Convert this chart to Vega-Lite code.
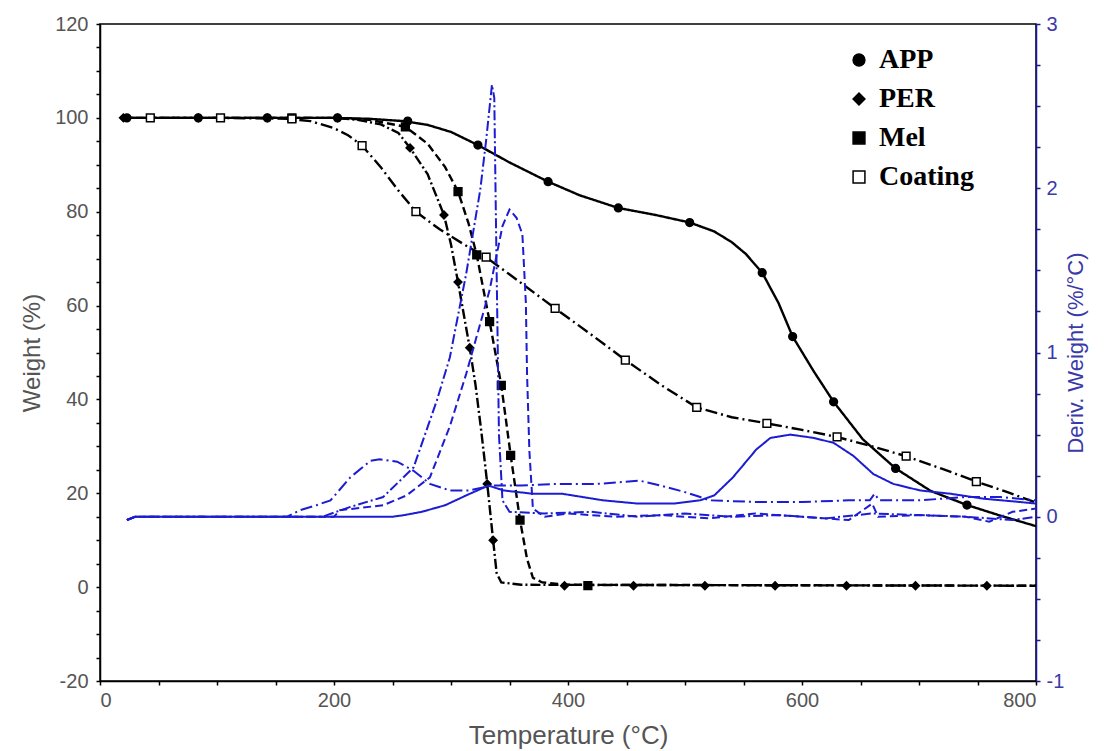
{
  "$schema": "https://vega.github.io/schema/vega-lite/v6.json",
  "autosize": {"type": "none"},
  "padding": {"left": 100, "top": 24, "right": 76, "bottom": 70},
  "width": 936,
  "height": 657,
  "background": "white",
  "config": {
    "view": {"stroke": "black", "strokeWidth": 1.5},
    "axis": {
      "labelFont": "Liberation Sans",
      "labelFontSize": 20,
      "labelColor": "#555555",
      "titleFont": "Liberation Sans",
      "titleFontSize": 24,
      "titleFontWeight": "normal",
      "titleColor": "#555555",
      "grid": false,
      "domainColor": "black",
      "domainWidth": 1.5,
      "tickColor": "black",
      "tickWidth": 1.5,
      "tickSize": 4
    },
    "legend": {
      "labelFont": "Liberation Serif",
      "labelFontSize": 28,
      "labelFontWeight": "bold",
      "labelColor": "black"
    }
  },
  "datasets": {
    "tga": [
      {"series": "APP", "T": 20, "w": 100}, {"series": "APP", "T": 100, "w": 100}, {"series": "APP", "T": 200, "w": 100},
      {"series": "APP", "T": 230, "w": 99.8}, {"series": "APP", "T": 260, "w": 99.3}, {"series": "APP", "T": 280, "w": 98.5},
      {"series": "APP", "T": 300, "w": 97}, {"series": "APP", "T": 323, "w": 94.2}, {"series": "APP", "T": 350, "w": 90.5},
      {"series": "APP", "T": 383, "w": 86.4}, {"series": "APP", "T": 410, "w": 83.5}, {"series": "APP", "T": 443, "w": 80.8},
      {"series": "APP", "T": 475, "w": 79.3}, {"series": "APP", "T": 504, "w": 77.7}, {"series": "APP", "T": 525, "w": 75.8},
      {"series": "APP", "T": 540, "w": 73.5}, {"series": "APP", "T": 552, "w": 71}, {"series": "APP", "T": 566, "w": 67},
      {"series": "APP", "T": 580, "w": 60.5}, {"series": "APP", "T": 592, "w": 53.4}, {"series": "APP", "T": 610, "w": 46},
      {"series": "APP", "T": 627, "w": 39.5}, {"series": "APP", "T": 652, "w": 31.5}, {"series": "APP", "T": 680, "w": 25.3},
      {"series": "APP", "T": 710, "w": 20.5}, {"series": "APP", "T": 741, "w": 17.5}, {"series": "APP", "T": 770, "w": 15.2},
      {"series": "APP", "T": 800, "w": 13},

      {"series": "PER", "T": 20, "w": 100}, {"series": "PER", "T": 200, "w": 100}, {"series": "PER", "T": 220, "w": 99.6},
      {"series": "PER", "T": 240, "w": 98.6}, {"series": "PER", "T": 255, "w": 96.8}, {"series": "PER", "T": 265, "w": 93.6},
      {"series": "PER", "T": 280, "w": 88}, {"series": "PER", "T": 294, "w": 79.3}, {"series": "PER", "T": 300, "w": 73},
      {"series": "PER", "T": 306, "w": 65}, {"series": "PER", "T": 311, "w": 58}, {"series": "PER", "T": 316, "w": 51},
      {"series": "PER", "T": 321, "w": 43}, {"series": "PER", "T": 326, "w": 33}, {"series": "PER", "T": 331, "w": 22},
      {"series": "PER", "T": 336, "w": 10}, {"series": "PER", "T": 339, "w": 3}, {"series": "PER", "T": 343, "w": 1},
      {"series": "PER", "T": 360, "w": 0.5}, {"series": "PER", "T": 800, "w": 0.3},

      {"series": "Mel", "T": 20, "w": 100}, {"series": "Mel", "T": 200, "w": 100}, {"series": "Mel", "T": 230, "w": 99.6},
      {"series": "Mel", "T": 261, "w": 98.1}, {"series": "Mel", "T": 280, "w": 94.5}, {"series": "Mel", "T": 295, "w": 89.5},
      {"series": "Mel", "T": 306, "w": 84.3}, {"series": "Mel", "T": 315, "w": 77.5}, {"series": "Mel", "T": 322, "w": 70.8},
      {"series": "Mel", "T": 333, "w": 56.6}, {"series": "Mel", "T": 343, "w": 43}, {"series": "Mel", "T": 351, "w": 28.1},
      {"series": "Mel", "T": 359, "w": 14.3}, {"series": "Mel", "T": 365, "w": 6}, {"series": "Mel", "T": 370, "w": 2},
      {"series": "Mel", "T": 378, "w": 1}, {"series": "Mel", "T": 400, "w": 0.5}, {"series": "Mel", "T": 800, "w": 0.3},

      {"series": "Coating", "T": 20, "w": 100}, {"series": "Coating", "T": 100, "w": 100}, {"series": "Coating", "T": 160, "w": 99.8},
      {"series": "Coating", "T": 180, "w": 99.3}, {"series": "Coating", "T": 200, "w": 97.8}, {"series": "Coating", "T": 212, "w": 96.3},
      {"series": "Coating", "T": 224, "w": 94.1}, {"series": "Coating", "T": 240, "w": 89.5}, {"series": "Coating", "T": 255, "w": 84.5},
      {"series": "Coating", "T": 270, "w": 80}, {"series": "Coating", "T": 290, "w": 76.3}, {"series": "Coating", "T": 310, "w": 73.2},
      {"series": "Coating", "T": 330, "w": 70.3}, {"series": "Coating", "T": 360, "w": 64.8}, {"series": "Coating", "T": 389, "w": 59.4},
      {"series": "Coating", "T": 420, "w": 53.8}, {"series": "Coating", "T": 449, "w": 48.4}, {"series": "Coating", "T": 480, "w": 43},
      {"series": "Coating", "T": 510, "w": 38.3}, {"series": "Coating", "T": 540, "w": 36.2}, {"series": "Coating", "T": 570, "w": 34.9},
      {"series": "Coating", "T": 600, "w": 33.5}, {"series": "Coating", "T": 630, "w": 32}, {"series": "Coating", "T": 660, "w": 30},
      {"series": "Coating", "T": 689, "w": 27.9}, {"series": "Coating", "T": 720, "w": 25.2}, {"series": "Coating", "T": 749, "w": 22.5},
      {"series": "Coating", "T": 775, "w": 20.3}, {"series": "Coating", "T": 800, "w": 18}
    ],
    "tgaMarks": [
      {"series": "APP", "T": 23, "w": 100}, {"series": "APP", "T": 84, "w": 100}, {"series": "APP", "T": 143, "w": 100},
      {"series": "APP", "T": 203, "w": 100}, {"series": "APP", "T": 263, "w": 99.3}, {"series": "APP", "T": 323, "w": 94.2},
      {"series": "APP", "T": 383, "w": 86.4}, {"series": "APP", "T": 443, "w": 80.8}, {"series": "APP", "T": 504, "w": 77.7},
      {"series": "APP", "T": 566, "w": 67}, {"series": "APP", "T": 592, "w": 53.4}, {"series": "APP", "T": 627, "w": 39.5},
      {"series": "APP", "T": 680, "w": 25.3}, {"series": "APP", "T": 741, "w": 17.5},

      {"series": "PER", "T": 20, "w": 100}, {"series": "PER", "T": 84, "w": 100}, {"series": "PER", "T": 143, "w": 100},
      {"series": "PER", "T": 203, "w": 100}, {"series": "PER", "T": 265, "w": 93.6}, {"series": "PER", "T": 294, "w": 79.3},
      {"series": "PER", "T": 306, "w": 65}, {"series": "PER", "T": 316, "w": 51}, {"series": "PER", "T": 331, "w": 22},
      {"series": "PER", "T": 336, "w": 10}, {"series": "PER", "T": 397, "w": 0.3}, {"series": "PER", "T": 456, "w": 0.3},
      {"series": "PER", "T": 517, "w": 0.3}, {"series": "PER", "T": 577, "w": 0.3}, {"series": "PER", "T": 638, "w": 0.3},
      {"series": "PER", "T": 697, "w": 0.3}, {"series": "PER", "T": 758, "w": 0.3},

      {"series": "Mel", "T": 164, "w": 100}, {"series": "Mel", "T": 261, "w": 98.1}, {"series": "Mel", "T": 306, "w": 84.3},
      {"series": "Mel", "T": 322, "w": 70.8}, {"series": "Mel", "T": 333, "w": 56.6}, {"series": "Mel", "T": 343, "w": 43},
      {"series": "Mel", "T": 351, "w": 28.1}, {"series": "Mel", "T": 359, "w": 14.3}, {"series": "Mel", "T": 417, "w": 0.3},

      {"series": "Coating", "T": 43, "w": 100}, {"series": "Coating", "T": 103, "w": 100}, {"series": "Coating", "T": 164, "w": 99.8},
      {"series": "Coating", "T": 224, "w": 94.1}, {"series": "Coating", "T": 270, "w": 80}, {"series": "Coating", "T": 330, "w": 70.3},
      {"series": "Coating", "T": 389, "w": 59.4}, {"series": "Coating", "T": 449, "w": 48.4}, {"series": "Coating", "T": 510, "w": 38.3},
      {"series": "Coating", "T": 570, "w": 34.9}, {"series": "Coating", "T": 630, "w": 32}, {"series": "Coating", "T": 689, "w": 27.9},
      {"series": "Coating", "T": 749, "w": 22.5}
    ],
    "dtg": [
      {"series": "APP", "T": 23, "d": -0.02}, {"series": "APP", "T": 30, "d": 0}, {"series": "APP", "T": 250, "d": 0},
      {"series": "APP", "T": 260, "d": 0.01}, {"series": "APP", "T": 275, "d": 0.03}, {"series": "APP", "T": 295, "d": 0.07},
      {"series": "APP", "T": 313, "d": 0.13}, {"series": "APP", "T": 332, "d": 0.19}, {"series": "APP", "T": 345, "d": 0.16},
      {"series": "APP", "T": 370, "d": 0.14}, {"series": "APP", "T": 395, "d": 0.14}, {"series": "APP", "T": 430, "d": 0.1},
      {"series": "APP", "T": 460, "d": 0.08}, {"series": "APP", "T": 490, "d": 0.08}, {"series": "APP", "T": 513, "d": 0.1},
      {"series": "APP", "T": 525, "d": 0.13}, {"series": "APP", "T": 541, "d": 0.24}, {"series": "APP", "T": 561, "d": 0.41},
      {"series": "APP", "T": 573, "d": 0.48}, {"series": "APP", "T": 590, "d": 0.5}, {"series": "APP", "T": 610, "d": 0.48},
      {"series": "APP", "T": 627, "d": 0.45}, {"series": "APP", "T": 644, "d": 0.37}, {"series": "APP", "T": 661, "d": 0.26},
      {"series": "APP", "T": 678, "d": 0.2}, {"series": "APP", "T": 701, "d": 0.16}, {"series": "APP", "T": 727, "d": 0.14},
      {"series": "APP", "T": 755, "d": 0.11}, {"series": "APP", "T": 786, "d": 0.09}, {"series": "APP", "T": 800, "d": 0.08},

      {"series": "PER", "T": 23, "d": -0.02}, {"series": "PER", "T": 30, "d": 0}, {"series": "PER", "T": 190, "d": 0},
      {"series": "PER", "T": 214, "d": 0.06}, {"series": "PER", "T": 242, "d": 0.12}, {"series": "PER", "T": 268, "d": 0.3},
      {"series": "PER", "T": 288, "d": 0.71}, {"series": "PER", "T": 299, "d": 0.97}, {"series": "PER", "T": 313, "d": 1.48},
      {"series": "PER", "T": 325, "d": 1.99}, {"series": "PER", "T": 330, "d": 2.29}, {"series": "PER", "T": 335, "d": 2.63},
      {"series": "PER", "T": 337, "d": 2.55}, {"series": "PER", "T": 339, "d": 1.5}, {"series": "PER", "T": 341, "d": 0.5},
      {"series": "PER", "T": 344, "d": 0.1}, {"series": "PER", "T": 350, "d": 0.03}, {"series": "PER", "T": 380, "d": 0.02},
      {"series": "PER", "T": 420, "d": 0.03}, {"series": "PER", "T": 460, "d": 0.0}, {"series": "PER", "T": 500, "d": 0.02},
      {"series": "PER", "T": 540, "d": 0.0}, {"series": "PER", "T": 580, "d": 0.01}, {"series": "PER", "T": 620, "d": -0.01},
      {"series": "PER", "T": 660, "d": 0.02}, {"series": "PER", "T": 700, "d": 0.01}, {"series": "PER", "T": 740, "d": 0.0},
      {"series": "PER", "T": 780, "d": -0.02}, {"series": "PER", "T": 800, "d": 0.0},

      {"series": "Mel", "T": 23, "d": -0.02}, {"series": "Mel", "T": 30, "d": 0}, {"series": "Mel", "T": 200, "d": 0},
      {"series": "Mel", "T": 205, "d": 0.04}, {"series": "Mel", "T": 242, "d": 0.07}, {"series": "Mel", "T": 262, "d": 0.13},
      {"series": "Mel", "T": 282, "d": 0.24}, {"series": "Mel", "T": 299, "d": 0.55}, {"series": "Mel", "T": 313, "d": 0.87},
      {"series": "Mel", "T": 333, "d": 1.38}, {"series": "Mel", "T": 344, "d": 1.77}, {"series": "Mel", "T": 350, "d": 1.87},
      {"series": "Mel", "T": 356, "d": 1.82}, {"series": "Mel", "T": 361, "d": 1.72}, {"series": "Mel", "T": 364, "d": 1.3},
      {"series": "Mel", "T": 365, "d": 0.87}, {"series": "Mel", "T": 367, "d": 0.4}, {"series": "Mel", "T": 370, "d": 0.05},
      {"series": "Mel", "T": 380, "d": 0.0}, {"series": "Mel", "T": 400, "d": 0.02}, {"series": "Mel", "T": 440, "d": 0.0},
      {"series": "Mel", "T": 480, "d": 0.01}, {"series": "Mel", "T": 520, "d": -0.01}, {"series": "Mel", "T": 560, "d": 0.02},
      {"series": "Mel", "T": 600, "d": 0.0}, {"series": "Mel", "T": 640, "d": -0.02}, {"series": "Mel", "T": 660, "d": 0.08},
      {"series": "Mel", "T": 665, "d": 0.0}, {"series": "Mel", "T": 700, "d": 0.01}, {"series": "Mel", "T": 740, "d": 0.0},
      {"series": "Mel", "T": 760, "d": -0.03}, {"series": "Mel", "T": 780, "d": 0.03}, {"series": "Mel", "T": 800, "d": 0.05},

      {"series": "Coating", "T": 23, "d": -0.02}, {"series": "Coating", "T": 30, "d": 0}, {"series": "Coating", "T": 160, "d": 0},
      {"series": "Coating", "T": 171, "d": 0.04}, {"series": "Coating", "T": 185, "d": 0.07}, {"series": "Coating", "T": 197, "d": 0.1},
      {"series": "Coating", "T": 214, "d": 0.24}, {"series": "Coating", "T": 231, "d": 0.34}, {"series": "Coating", "T": 239, "d": 0.35},
      {"series": "Coating", "T": 254, "d": 0.335}, {"series": "Coating", "T": 268, "d": 0.28}, {"series": "Coating", "T": 282, "d": 0.2},
      {"series": "Coating", "T": 299, "d": 0.16}, {"series": "Coating", "T": 315, "d": 0.16}, {"series": "Coating", "T": 335, "d": 0.19},
      {"series": "Coating", "T": 360, "d": 0.19}, {"series": "Coating", "T": 390, "d": 0.2}, {"series": "Coating", "T": 425, "d": 0.2},
      {"series": "Coating", "T": 461, "d": 0.22}, {"series": "Coating", "T": 479, "d": 0.19}, {"series": "Coating", "T": 500, "d": 0.15},
      {"series": "Coating", "T": 513, "d": 0.12}, {"series": "Coating", "T": 521, "d": 0.1}, {"series": "Coating", "T": 560, "d": 0.09},
      {"series": "Coating", "T": 600, "d": 0.09}, {"series": "Coating", "T": 640, "d": 0.1}, {"series": "Coating", "T": 658, "d": 0.1},
      {"series": "Coating", "T": 662, "d": 0.14}, {"series": "Coating", "T": 666, "d": 0.1}, {"series": "Coating", "T": 700, "d": 0.1},
      {"series": "Coating", "T": 740, "d": 0.12}, {"series": "Coating", "T": 770, "d": 0.12}, {"series": "Coating", "T": 800, "d": 0.1}
    ]
  },
  "encoding": {
    "x": {
      "field": "T",
      "type": "quantitative",
      "scale": {"domain": [0, 800], "nice": false, "zero": false},
      "axis": {
        "title": "Temperature (°C)",
        "titleFontSize": 26,
        "values": [0, 50, 100, 150, 200, 250, 300, 350, 400, 450, 500, 550, 600, 650, 700, 750, 800],
        "labelExpr": "datum.value % 200 === 0 ? '' + datum.value : ''",
        "labelPadding": 5,
        "titlePadding": 12
      }
    }
  },
  "layer": [
    {
      "encoding": {
        "y": {
          "field": "w",
          "type": "quantitative",
          "scale": {"domain": [-20, 120], "nice": false, "zero": false},
          "axis": {
            "orient": "left",
            "title": "Weight (%)",
            "values": [-20, -15, -10, -5, 0, 5, 10, 15, 20, 25, 30, 35, 40, 45, 50, 55, 60, 65, 70, 75, 80, 85, 90, 95, 100, 105, 110, 115, 120],
            "labelExpr": "datum.value % 20 === 0 ? '' + datum.value : ''",
            "labelPadding": 8,
            "titlePadding": 10
          }
        }
      },
      "layer": [
        {
          "data": {"name": "tga"},
          "mark": {"type": "line", "color": "black", "strokeWidth": 2.4},
          "encoding": {
            "detail": {"field": "series"},
            "strokeDash": {
              "field": "series",
              "type": "nominal",
              "scale": {
                "domain": ["APP", "PER", "Mel", "Coating"],
                "range": [[1, 0], [10, 3, 2, 3], [8, 4], [12, 4, 2, 4]]
              },
              "legend": null
            }
          }
        },
        {
          "data": {"name": "tgaMarks"},
          "mark": {"type": "point", "filled": true, "stroke": "black", "strokeWidth": 1.5, "opacity": 1, "size": 60},
          "encoding": {
            "shape": {
              "field": "series",
              "type": "nominal",
              "scale": {"domain": ["APP", "PER", "Mel", "Coating"], "range": ["circle", "diamond", "square", "square"]},
              "legend": {
                "title": null,
                "orient": "none",
                "legendX": 745,
                "legendY": 22,
                "symbolSize": 140,
                "rowPadding": 11,
                "labelOffset": 6,
                "encode": {"symbols": {"update": {"stroke": {"value": "black"}, "strokeWidth": {"value": 1.5}}}}
              }
            },
            "fill": {
              "field": "series",
              "type": "nominal",
              "scale": {"domain": ["APP", "PER", "Mel", "Coating"], "range": ["black", "black", "black", "white"]},
              "legend": {
                "title": null,
                "orient": "none",
                "legendX": 745,
                "legendY": 22,
                "symbolSize": 140,
                "rowPadding": 11,
                "labelOffset": 6,
                "encode": {"symbols": {"update": {"stroke": {"value": "black"}, "strokeWidth": {"value": 1.5}}}}
              }
            }
          }
        }
      ]
    },
    {
      "data": {"name": "dtg"},
      "mark": {"type": "line", "color": "#1c1cd2", "strokeWidth": 2},
      "encoding": {
        "y": {
          "field": "d",
          "type": "quantitative",
          "scale": {"domain": [-1, 3], "nice": false, "zero": false},
          "axis": {
            "orient": "right",
            "title": "Deriv. Weight (%/°C)",
            "titleAngle": 270,
            "titleFontSize": 22,
            "titleColor": "#3a3aa8",
            "labelColor": "#3a3aa8",
            "domainColor": "#1a1a90",
            "tickColor": "#1a1a90",
            "values": [-1, -0.75, -0.5, -0.25, 0, 0.25, 0.5, 0.75, 1, 1.25, 1.5, 1.75, 2, 2.25, 2.5, 2.75, 3],
            "labelExpr": "datum.value % 1 === 0 ? '' + datum.value : ''",
            "labelPadding": 6,
            "titlePadding": 24
          }
        },
        "detail": {"field": "series"},
        "strokeDash": {
          "field": "series",
          "type": "nominal",
          "scale": {
            "domain": ["APP", "PER", "Mel", "Coating"],
            "range": [[1, 0], [10, 3, 2, 3], [8, 4], [12, 4, 2, 4]]
          },
          "legend": null
        }
      }
    }
  ],
  "resolve": {"scale": {"y": "independent", "strokeDash": "independent"}}
}
